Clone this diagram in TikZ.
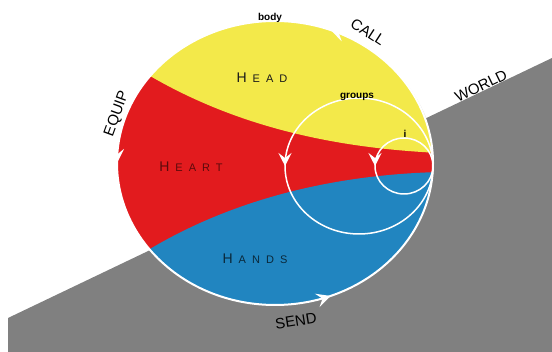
\documentclass[tikz,border=0pt]{standalone}
\usepackage{fontspec}
\setmainfont{Liberation Sans}
\usepackage{xcolor}
\usetikzlibrary{arrows.meta,decorations.markings,shadows}

\definecolor{headyellow}{RGB}{243,233,74}
\definecolor{heartred}{RGB}{226,27,30}
\definecolor{handsblue}{RGB}{33,133,192}
\definecolor{worldgray}{RGB}{128,128,128}

\newfontfamily\widefont[LetterSpace=55]{Liberation Sans}
\newcommand{\smallcaps}[2]{{\fontsize{14}{14}\selectfont #1}\hspace{6pt}{\fontsize{11}{11}\selectfont #2}}

\tikzset{
  flow/.style={white, line width=#1, decoration={markings,
      mark=at position 0.5 with {\arrow{Stealth[length=13pt,width=13pt,inset=5pt]}}},
      postaction=decorate},
  flow/.default=1.5pt,
  zone/.style={font=\widefont},
  ring/.style={font=\bfseries\fontsize{10}{10}\selectfont},
  verb/.style={font=\fontsize{15}{15}\selectfont}
}

\begin{document}
\begin{tikzpicture}[x=1pt, y=1pt, >=Stealth]
    \useasboundingbox (0,0) rectangle (552,352);
    \fill[worldgray] (8,0) -- (8,34) -- (552,294) -- (552,0) -- cycle;
    \fill[heartred, drop shadow={shadow xshift=2pt, shadow yshift=-2pt, opacity=0.35}]
        (275,189) ellipse (158 and 142);
    \begin{scope}
        \clip (275,189) ellipse (158 and 142);
        \fill[headyellow] (140,282) .. controls (230,227) and (330,204) .. (440,199)
            -- (440,340) -- (100,340) -- cycle;
        \fill[handsblue] (140,97) .. controls (220,147) and (320,177) .. (440,180)
            -- (440,40) -- (100,40) -- cycle;
    \end{scope}
    \draw[white, line width=2pt, decoration={markings,
        mark=at position 0.19 with {\arrow{Stealth[length=14pt,width=14pt,inset=5.5pt]}},
        mark=at position 0.5 with {\arrow{Stealth[length=14pt,width=14pt,inset=5.5pt]}},
        mark=at position 0.81 with {\arrow{Stealth[length=14pt,width=14pt,inset=5.5pt]}}},
        postaction=decorate] (275,189) ellipse (158 and 142);
    \draw[flow] (359,186) ellipse (74 and 68);
    \draw[flow] (404,186) ellipse (29 and 28);
    \node[zone, text=black!90] (head) at (262,274) {\smallcaps{H}{EAD}};
    \node[zone, text=heartred!40!black] (heart) at (191,185) {\smallcaps{H}{EART}};
    \node[zone, text=handsblue!30!black] (hands) at (255,93) {\smallcaps{H}{ANDS}};
    \node[ring] (body) at (270,334) {body};
    \node[ring] (groups) at (357,255) {groups};
    \node[ring] (self) at (405,218) {i};
    \node[verb, rotate=-33] (call) at (368,320) {CALL};
    \node[verb, rotate=70] (equip) at (117,238) {EQUIP};
    \node[verb, rotate=26] (world) at (481,266) {WORLD};
    \node[verb, rotate=9] (send) at (296,31) {SEND};
\end{tikzpicture}
\end{document}
